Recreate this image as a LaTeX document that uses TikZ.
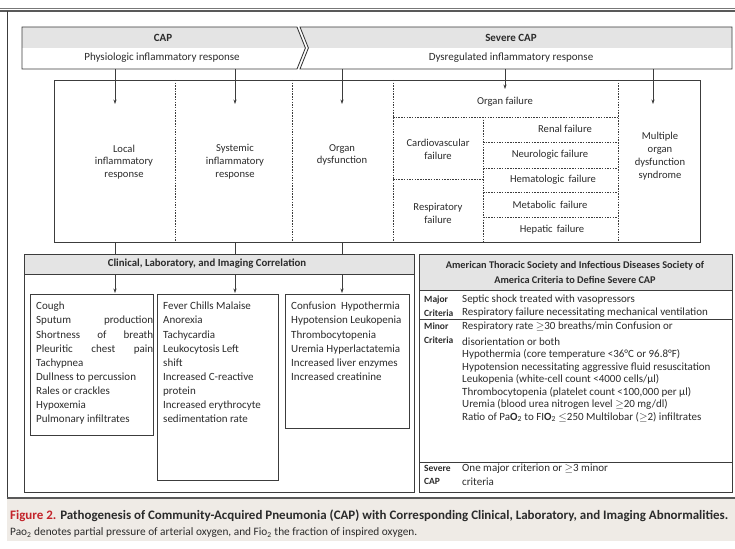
\documentclass[tikz,border=0pt]{standalone}
\usepackage{fontspec}
\setmainfont{Carlito}
\usetikzlibrary{arrows.meta}
\definecolor{ln}{HTML}{3C3C3C}
\definecolor{tx}{HTML}{2B2B2B}
\definecolor{hdr}{HTML}{E4E4E4}
\definecolor{capbg}{HTML}{EFEBE6}
\definecolor{figred}{HTML}{C3242B}
\begin{document}
\begin{tikzpicture}[x=1pt,y=-1pt,
  every node/.style={inner sep=0pt, text=tx},
  frame/.style={draw=ln, line width=0.9pt},
  dsh/.style={draw=ln, line width=0.5pt, dash pattern=on 1.5pt off 1.2pt},
  arr/.style={draw=ln, line width=0.6pt, -{Stealth[length=4.5pt,width=3.2pt]}},
  stem/.style={draw=ln, line width=0.6pt},
  mid/.style={align=center, font=\fontsize{10.6}{12.8}\selectfont},
  bn/.style={font=\fontsize{11}{12}\selectfont},
  bnb/.style={font=\fontsize{11}{12}\selectfont\bfseries},
  lst/.style={anchor=north west, align=left, font=\fontsize{11}{14.1}\selectfont},
  hd/.style={font=\fontsize{10.8}{15}\selectfont\bfseries, align=center},
  hdr2/.style={font=\fontsize{10.3}{14.5}\selectfont\bfseries, align=center},
  rt/.style={anchor=north west, align=left, font=\fontsize{11}{12.5}\selectfont},
  rl/.style={anchor=north west, align=left, font=\fontsize{9.5}{13.5}\selectfont\bfseries},
]
\useasboundingbox (0,0) rectangle (735,548);
% outer frame
\draw[ln!70, line width=0.6pt] (0,8) -- (735,8);
\draw[ln!85, line width=1.3pt] (0,11) -- (735,11);
\draw[ln, line width=1pt] (7,11) -- (7,498);
\fill[capbg] (7,499) rectangle (735,541);
\draw[ln!85, line width=1.3pt] (7,498) -- (735,498);

% banner
\fill[hdr] (22,27) -- (297,27) -- (305.4,48) -- (22,48) -- cycle;
\fill[hdr] (300,27) -- (732,27) -- (732,48) -- (308.4,48) -- cycle;
\draw[frame] (22,27) -- (297,27) -- (305.4,48) -- (297,69) -- (22,69) -- cycle;
\draw[frame] (300,27) -- (732,27) -- (732,69) -- (300,69) -- (308.4,48) -- cycle;
\node[bnb] (cap) at (163,38) {CAP};
\node[bn] (phys) at (162,58) {Physiologic inflammatory response};
\node[bnb] (scap) at (511,38) {Severe CAP};
\node[bn] (dys) at (511,58) {Dysregulated inflammatory response};

% middle box
\draw[frame] (54,80) rectangle (700,242);
\draw[dsh] (175,80) -- (175,242);
\draw[dsh] (292,80) -- (292,242);
\draw[dsh] (393,80) -- (393,242);
\draw[dsh] (618,80) -- (618,242);
\draw[dsh] (393,117) -- (618,117);
\draw[dsh] (483,117) -- (483,242);
\draw[dsh] (393,179) -- (483,179);
\foreach \yy in {142,168,192,217} \draw[dsh] (483,\yy) -- (618,\yy);

\node[mid] (loc) at (124,162) {Local\\inflammatory\\response};
\node[mid] (sys) at (235,162) {Systemic\\inflammatory\\response};
\node[mid] (odys) at (342,155) {Organ\\dysfunction};
\node[mid] (ofail) at (505,102) {Organ failure};
\node[mid] (cv) at (438,149) {Cardiovascular\\failure};
\node[mid] (resp) at (438,213) {Respiratory\\failure};
\node[mid] (ren) at (565,129) {Renal failure};
\node[mid] (neu) at (550,155) {Neurologic failure};
\node[mid] (hem) at (553,180) {Hematologic\, failure};
\node[mid] (met) at (550,205) {Metabolic\, failure};
\node[mid] (hep) at (552,230) {Hepatic\, failure};
\node[mid] (mods) at (660,156) {Multiple\\organ\\dysfunction\\syndrome};

% arrows banner -> middle
\foreach \xx/\yy/\nm in {115/104/a, 235/104/b, 342/104/c, 505/89/d, 653/104/e} {
  \coordinate (\nm s) at (\xx,69);
  \coordinate (\nm t) at (\xx,\yy);
  \draw[arr] (\nm s) -- (\nm t);
}

% lower left
\fill[hdr] (24,254) rectangle (414,274);
\draw[frame] (24,254) rectangle (414,492);
\draw[frame] (24,274) -- (414,274);
\node[hd] (clin) at (207,264) {Clinical, Laboratory, and Imaging Correlation};

\foreach \xx/\nm in {115/f, 235/g, 342/h} {
  \coordinate (\nm a) at (\xx,242);
  \coordinate (\nm b) at (\xx,254);
  \coordinate (\nm c) at (\xx,274);
  \coordinate (\nm d) at (\xx,293);
  \draw[stem] (\nm a) -- (\nm b);
  \draw[arr] (\nm c) -- (\nm d);
}

\draw[frame] (30,294) rectangle (153,435);
\draw[frame] (157,294) rectangle (278,480);
\draw[frame] (285,294) rectangle (409,428);

\node[lst] (l1) at (36,302) {Cough\\
\makebox[117pt][s]{Sputum production}\\
\makebox[117pt][s]{Shortness of breath}\\
\makebox[117pt][s]{Pleuritic chest pain}\\
Tachypnea\\Dullness to percussion\\Rales or crackles\\Hypoxemia\\Pulmonary infiltrates};
\node[lst] (l2) at (163,302) {Fever Chills Malaise\\Anorexia\\Tachycardia\\Leukocytosis Left\\shift\\Increased C-reactive\\protein\\Increased erythrocyte\\sedimentation rate};
\node[lst] (l3) at (291,302) {Confusion\ \ Hypothermia\\Hypotension Leukopenia\\Thrombocytopenia\\Uremia Hyperlactatemia\\Increased liver enzymes\\Increased creatinine};

% right box
\fill[hdr] (419,254) rectangle (732,290);
\draw[frame] (419,254) rectangle (732,492);
\draw[frame] (419,290) -- (732,290);
\draw[frame] (419,319) -- (732,319);
\draw[frame] (419,462) -- (732,462);
\node[hdr2] (ats) at (575,272.5) {American Thoracic Society and Infectious Diseases Society of\\America Criteria to Define Severe CAP};

\node[rl] (majl) at (424,296) {Major\\Criteria};
\node[rt] (majt) at (462,295) {Septic shock treated with vasopressors\\[0.5pt]Respiratory failure necessitating mechanical ventilation};
\node[rl] (minl) at (424,323) {Minor\\Criteria};
\node[rt] (mint1) at (462,322) {Respiratory rate $\ge$30 breaths/min Confusion or};
\node[rt] (mint2) at (462,337.5) {disorientation or both\\
Hypothermia (core temperature <36°C or 96.8°F)\\
Hypotension necessitating aggressive fluid resuscitation\\
Leukopenia (white-cell count <4000 cells/µl)\\
Thrombocytopenia (platelet count <100,000 per µl)\\
Uremia (blood urea nitrogen level $\ge$20 mg/dl)\\
Ratio of Pa\textbf{O}\textsubscript{2} to FI\textbf{O}\textsubscript{2} $\le$250 Multilobar ($\ge$2) infiltrates};
\node[rl] (sevl) at (424,465) {Severe\\CAP};
\node[rt] (sevt) at (462,464) {One major criterion or $\ge$3 minor\\[1.5pt]criteria};

% caption
\node[anchor=west] (cap1) at (10,516) {\resizebox{718pt}{!}{\fontsize{11}{13}\selectfont\bfseries\textcolor{figred}{Figure 2.} Pathogenesis of Community-Acquired Pneumonia (CAP) with Corresponding Clinical, Laboratory, and Imaging Abnormalities.}};
\node[anchor=west] (cap2) at (10,533) {\resizebox{407pt}{!}{\fontsize{9}{11}\selectfont Pao\textsubscript{2} denotes partial pressure of arterial oxygen, and Fio\textsubscript{2} the fraction of inspired oxygen.}};
\end{tikzpicture}
\end{document}
